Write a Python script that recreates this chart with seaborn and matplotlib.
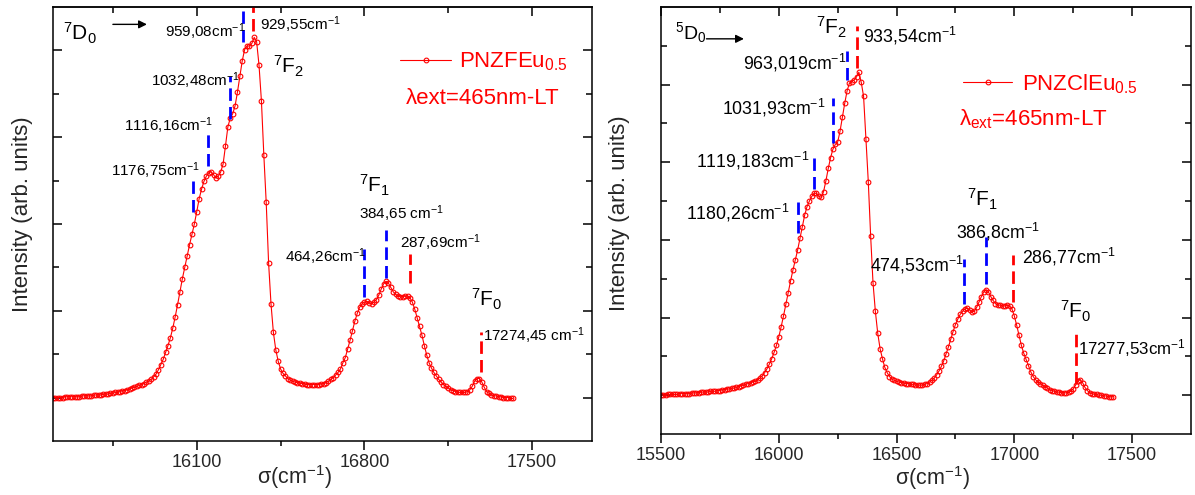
import matplotlib
matplotlib.use("Agg")
import matplotlib.pyplot as plt
import seaborn as sns
import pandas as pd

# ---------------- data ----------------
WAVENUMBER = list(range(15500, 17421, 10))   # sampling grid, cm-1

PNZFEU = [
    0.00, 0.00, 0.00, 0.00, 0.00, 0.01, 0.01, 0.01, 0.01, 0.01,
    0.01, 0.01, 0.02, 0.02, 0.02, 0.02, 0.02, 0.03, 0.03, 0.03,
    0.03, 0.04, 0.04, 0.04, 0.05, 0.05, 0.06, 0.06, 0.07, 0.08,
    0.08, 0.09, 0.10, 0.11, 0.12, 0.13, 0.14, 0.15, 0.16, 0.18,
    0.19, 0.21, 0.24, 0.27, 0.32, 0.38, 0.44, 0.52, 0.60, 0.69,
    0.80, 0.93, 1.07, 1.22, 1.37, 1.50, 1.63, 1.76, 1.88, 2.00,
    2.14, 2.29, 2.40, 2.49, 2.55, 2.59, 2.60, 2.57, 2.53, 2.55,
    2.60, 2.69, 2.90, 3.12, 3.22, 3.27, 3.36, 3.52, 3.70, 3.88,
    4.01, 4.05, 4.05, 4.08, 4.15, 4.10, 3.83, 3.42, 2.80, 2.25,
    1.55, 1.08, 0.75, 0.55, 0.42, 0.33, 0.28, 0.25, 0.22, 0.20,
    0.19, 0.18, 0.17, 0.17, 0.16, 0.16, 0.15, 0.15, 0.15, 0.15,
    0.15, 0.15, 0.16, 0.16, 0.17, 0.19, 0.21, 0.23, 0.26, 0.29,
    0.33, 0.40, 0.46, 0.56, 0.66, 0.77, 0.88, 0.97, 1.04, 1.08,
    1.10, 1.11, 1.09, 1.08, 1.10, 1.13, 1.18, 1.25, 1.31, 1.34,
    1.32, 1.27, 1.22, 1.19, 1.17, 1.16, 1.16, 1.17, 1.17, 1.15,
    1.10, 1.02, 0.92, 0.82, 0.72, 0.60, 0.49, 0.40, 0.34, 0.29,
    0.25, 0.21, 0.18, 0.15, 0.13, 0.11, 0.09, 0.08, 0.07, 0.06,
    0.06, 0.06, 0.06, 0.07, 0.09, 0.13, 0.19, 0.22, 0.22, 0.18,
    0.12, 0.07, 0.05, 0.03, 0.02, 0.02, 0.01, 0.01, 0.00, 0.00,
    0.00, -0.01, -0.01,
]

PNZCLEU = [
    0.00, 0.00, 0.00, 0.01, 0.01, 0.01, 0.01, 0.01, 0.02, 0.02,
    0.02, 0.02, 0.02, 0.03, 0.03, 0.03, 0.03, 0.04, 0.04, 0.04,
    0.04, 0.05, 0.05, 0.05, 0.06, 0.06, 0.07, 0.07, 0.08, 0.08,
    0.09, 0.09, 0.10, 0.11, 0.12, 0.13, 0.14, 0.15, 0.16, 0.17,
    0.18, 0.20, 0.22, 0.25, 0.29, 0.34, 0.40, 0.47, 0.55, 0.64,
    0.75, 0.88, 1.02, 1.17, 1.32, 1.47, 1.61, 1.74, 1.87, 2.02,
    2.17, 2.32, 2.43, 2.50, 2.56, 2.60, 2.60, 2.56, 2.55, 2.62,
    2.76, 2.92, 3.06, 3.17, 3.23, 3.26, 3.40, 3.58, 3.76, 3.92,
    4.02, 4.04, 4.06, 4.10, 4.16, 4.03, 3.85, 3.30, 2.75, 2.05,
    1.45, 1.08, 0.80, 0.60, 0.47, 0.36, 0.29, 0.24, 0.21, 0.19,
    0.18, 0.17, 0.16, 0.16, 0.15, 0.15, 0.14, 0.14, 0.13, 0.13,
    0.13, 0.13, 0.14, 0.15, 0.17, 0.19, 0.22, 0.26, 0.31, 0.37,
    0.44, 0.53, 0.62, 0.72, 0.82, 0.91, 0.98, 1.04, 1.08, 1.11,
    1.12, 1.10, 1.07, 1.08, 1.13, 1.20, 1.27, 1.33, 1.36, 1.33,
    1.27, 1.22, 1.18, 1.16, 1.16, 1.15, 1.15, 1.16, 1.15, 1.11,
    1.02, 0.90, 0.77, 0.64, 0.54, 0.46, 0.38, 0.30, 0.24, 0.20,
    0.17, 0.15, 0.13, 0.11, 0.09, 0.07, 0.06, 0.05, 0.04, 0.04,
    0.03, 0.03, 0.03, 0.04, 0.05, 0.08, 0.13, 0.18, 0.20, 0.16,
    0.10, 0.06, 0.03, 0.02, 0.01, 0.01, 0.00, 0.00, -0.01, -0.01,
    -0.02, -0.02, -0.02,
]

LEFT_XTICKS = [16100, 16800, 17500]
LEFT_XMINOR = [15750, 16450, 17150]
RIGHT_XTICKS = [15500, 16000, 16500, 17000, 17500]
RIGHT_XMINOR = [15750, 16250, 16750, 17250]

# peak markers: (x position, y from, y to, colour)
LEFT_MARKS = [
    (16084, 2.14, 2.50, "#0000ff"),
    (16146, 2.67, 3.06, "#0000ff"),
    (16240, 3.21, 3.71, "#0000ff"),
    (16292, 4.10, 4.45, "#0000ff"),
    (16334, 4.22, 4.55, "#ff0000"),
    (16797, 1.16, 1.71, "#0000ff"),
    (16889, 1.38, 1.93, "#0000ff"),
    (16989, 1.32, 1.66, "#ff0000"),
    (17285, 0.30, 0.76, "#ff0000"),
]
RIGHT_MARKS = [
    (16083, 2.09, 2.49, "#0000ff"),
    (16150, 2.65, 3.06, "#0000ff"),
    (16230, 3.25, 3.83, "#0000ff"),
    (16288, 4.06, 4.43, "#0000ff"),
    (16334, 4.22, 4.75, "#ff0000"),
    (16787, 1.17, 1.75, "#0000ff"),
    (16880, 1.43, 2.04, "#0000ff"),
    (16993, 1.20, 1.81, "#ff0000"),
    (17261, 0.15, 0.83, "#ff0000"),
]

# labels: (text, x, y, horizontal alignment, size)
LEFT_LABELS = [
    ("$^{7}$D$_{0}$", 15542, 4.20, "left", 15),
    ("959,08cm$^{-1}$", 16305, 4.21, "right", 11),
    ("929,55cm$^{-1}$", 16363, 4.30, "left", 11),
    ("$^{7}$F$_{2}$", 16417, 3.82, "left", 15),
    ("1032,48cm$^{-1}$", 16282, 3.65, "right", 11),
    ("1116,16cm$^{-1}$", 16169, 3.13, "right", 11),
    ("1176,75cm$^{-1}$", 16115, 2.61, "right", 11),
    ("$^{7}$F$_{1}$", 16776, 2.44, "left", 15),
    ("384,65 cm$^{-1}$", 16776, 2.12, "left", 11),
    ("287,69cm$^{-1}$", 16947, 1.79, "left", 11),
    ("464,26cm$^{-1}$", 16805, 1.62, "right", 11),
    ("$^{7}$F$_{0}$", 17243, 1.13, "left", 15),
    ("17274,45 cm$^{-1}$", 17293, 0.71, "left", 11),
]
RIGHT_LABELS = [
    ("$^{5}$D$_{0}$", 15559, 4.67, "left", 14),
    ("$^{7}$F$_{2}$", 16158, 4.74, "left", 15),
    ("933,54cm$^{-1}$", 16357, 4.63, "left", 12.8),
    ("963,019cm$^{-1}$", 16288, 4.28, "right", 12.8),
    ("1031,93cm$^{-1}$", 16200, 3.70, "right", 12.8),
    ("1119,183cm$^{-1}$", 16129, 3.02, "right", 12.8),
    ("1180,26cm$^{-1}$", 16045, 2.35, "right", 12.8),
    ("$^{7}$F$_{1}$", 16800, 2.52, "left", 15),
    ("386,8cm$^{-1}$", 16752, 2.10, "left", 12.8),
    ("474,53cm$^{-1}$", 16787, 1.68, "right", 12.8),
    ("286,77cm$^{-1}$", 17032, 1.78, "left", 12.8),
    ("$^{7}$F$_{0}$", 17194, 1.08, "left", 15),
    ("17277,53cm$^{-1}$", 17271, 0.61, "left", 12.2),
]

# ---------------- styling ----------------
sns.set_theme(style="ticks")
plt.rcParams["font.family"] = ["Liberation Sans", "DejaVu Sans"]
plt.rcParams["mathtext.fontset"] = "custom"
plt.rcParams["mathtext.rm"] = "Liberation Sans"
plt.rcParams["mathtext.it"] = "Liberation Sans:italic"
plt.rcParams["mathtext.bf"] = "Liberation Sans:bold"
plt.rcParams["axes.linewidth"] = 1.1

RED = "#ff0000"

df = pd.DataFrame({"wn": WAVENUMBER, "fe": PNZFEU, "cl": PNZCLEU})

fig = plt.figure(figsize=(11.95, 4.95), dpi=100)
ax1 = fig.add_axes([53 / 1195, 1 - 441 / 495, 539 / 1195, 434 / 495])
ax2 = fig.add_axes([661 / 1195, 1 - 434 / 495, 530 / 1195, 427 / 495])

line_kw = dict(color=RED, marker="o", markersize=3.4, markerfacecolor="none",
               markeredgecolor=RED, markeredgewidth=0.8, linewidth=0.8,
               estimator=None, sort=False)

sns.lineplot(data=df, x="wn", y="fe", ax=ax1, label="PNZFEu$_{0.5}$", **line_kw)
sns.lineplot(data=df, x="wn", y="cl", ax=ax2, label="PNZClEu$_{0.5}$", **line_kw)


def style_axes(ax, ylim, xmaj, xmin, ymaj, ymin):
    ax.set_xlim(15500, 17750)
    ax.set_ylim(*ylim)
    ax.set_xticks(xmaj)
    ax.set_xticks(xmin, minor=True)
    ax.set_yticks(ymaj)
    ax.set_yticks(ymin, minor=True)
    ax.tick_params(axis="x", which="both", direction="out", top=False,
                   bottom=True, labelsize=13, pad=3, width=1.1, color="black")
    ax.tick_params(axis="x", which="major", length=6.5)
    ax.tick_params(axis="x", which="minor", length=3.6)
    ax.tick_params(axis="y", which="both", direction="in", left=True,
                   right=True, labelleft=False, width=1.1, color="black")
    ax.tick_params(axis="y", which="major", length=6.5)
    ax.tick_params(axis="y", which="minor", length=4)
    for s in ax.spines.values():
        s.set_visible(True)
        s.set_color("black")
        s.set_linewidth(1.1)
    sec = ax.secondary_xaxis("top")
    sec.set_xticks(xmaj)
    sec.set_xticks(xmin, minor=True)
    sec.tick_params(which="both", direction="in", labeltop=False,
                    labelbottom=False, width=1.1, color="black")
    sec.tick_params(which="major", length=6.5)
    sec.tick_params(which="minor", length=4)
    sec.spines["top"].set_linewidth(1.1)


style_axes(ax1, (-0.5, 4.5), LEFT_XTICKS, LEFT_XMINOR,
           [0, 1, 2, 3, 4], [0.5, 1.5, 2.5, 3.5])
style_axes(ax2, (-0.5, 5.0), RIGHT_XTICKS, RIGHT_XMINOR,
           [0, 1, 2, 3, 4], [0.5, 1.5, 2.5, 3.5, 4.5])

for ax, xx, xy, yx, yy in [(ax1, 0.447, -0.050, -0.037, 0.523),
                           (ax2, 0.513, -0.070, -0.0585, 0.518)]:
    ax.set_xlabel("σ(cm$^{-1}$)", fontsize=15.5)
    ax.set_ylabel("Intensity (arb. units)", fontsize=16)
    ax.xaxis.set_label_coords(xx, xy)
    ax.yaxis.set_label_coords(yx, yy)

# marker lines and labels
for ax, marks, labels in [(ax1, LEFT_MARKS, LEFT_LABELS),
                          (ax2, RIGHT_MARKS, RIGHT_LABELS)]:
    for x, y0, y1, c in marks:
        ax.plot([x, x], [y0, y1], color=c, linewidth=2.0,
                linestyle=(0, (4.5, 2.2)), clip_on=True)
    for txt, x, y, ha, fs in labels:
        ax.text(x, y, txt, ha=ha, va="center", fontsize=fs, color="black")

# arrows
ax1.annotate("", xy=(15892, 4.30), xytext=(15750, 4.30),
             arrowprops=dict(arrowstyle="-|>", color="black", lw=1.0,
                             mutation_scale=12, shrinkA=0, shrinkB=0))
ax2.annotate("", xy=(15852, 4.59), xytext=(15693, 4.59),
             arrowprops=dict(arrowstyle="-|>", color="black", lw=1.0,
                             mutation_scale=12, shrinkA=0, shrinkB=0))

# legends
ax1.legend(loc="center left", bbox_to_anchor=(0.644, 0.873), frameon=False,
           fontsize=16, labelcolor=RED, handlelength=2.3, handletextpad=0.35,
           borderpad=0, borderaxespad=0, numpoints=1)
ax2.legend(loc="center left", bbox_to_anchor=(0.570, 0.820), frameon=False,
           fontsize=16, labelcolor=RED, handlelength=2.2, handletextpad=0.45,
           borderpad=0, borderaxespad=0, numpoints=1)
ax1.text(16972, 3.45, "λext=465nm-LT", color=RED, fontsize=16,
         ha="left", va="center")
ax2.text(16766, 3.56, "λ$_{\\mathrm{ext}}$=465nm-LT", color=RED, fontsize=16,
         ha="left", va="center")

fig.savefig("out.png", dpi=100)
